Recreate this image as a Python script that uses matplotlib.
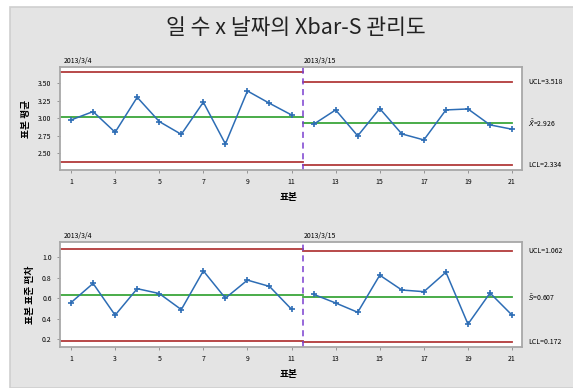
import numpy as np
import matplotlib.pyplot as plt
from matplotlib.patches import Rectangle

plt.rcParams['font.family'] = ['Noto Sans CJK KR', 'DejaVu Sans']

##--------------------- DATA --------------------
samples = np.arange(1, 22)
xbar = [2.976, 3.095, 2.80, 3.30, 2.953, 2.77, 3.23, 2.633, 3.39, 3.214, 3.047,
        2.914, 3.119, 2.748, 3.138, 2.776, 2.69, 3.119, 3.133, 2.905, 2.843]
sdev = [0.557, 0.743, 0.435, 0.692, 0.645, 0.489, 0.865, 0.60, 0.775, 0.714, 0.492,
        0.637, 0.553, 0.463, 0.823, 0.679, 0.663, 0.852, 0.348, 0.65, 0.435]
stage_start = [1, 12]
stage_end = [11, 21]
stage_names = ['2013/3/4', '2013/3/15']
xbar_ucl = [3.667, 3.518]
xbar_cl = [3.024, 2.926]
xbar_lcl = [2.381, 2.334]
s_ucl = [1.080, 1.062]
s_cl = [0.634, 0.607]
s_lcl = [0.184, 0.172]
xticks = [1, 3, 5, 7, 9, 11, 13, 15, 17, 19, 21]
xbar_ticks = [2.50, 2.75, 3.00, 3.25, 3.50]
s_ticks = [0.2, 0.4, 0.6, 0.8, 1.0]
title = '일 수 x 날짜의 Xbar-S 관리도'

c_line = '#2d6db5'
c_lim = '#b23a3a'
c_cl = '#3aa63a'
c_div = '#7a3fd0'

fig = plt.figure(figsize=(5.73, 3.88), dpi=100)
fig.patch.set_facecolor('white')
# gray panel with white strip on top/left
fig.add_artist(Rectangle((10/573, 0), 1, 1 - 7/388, transform=fig.transFigure,
                         facecolor='#e4e4e4', edgecolor='#cfcfcf', lw=1.2, zorder=0))

fig.text(0.517, 0.929, title, ha='center', va='center', fontsize=15.5, color='#222222')


def panel(rect, vals, ucl, cl, lcl, yticks, ylim, fmt, ylabel, cl_label):
    ax = fig.add_axes(rect)
    ax.set_facecolor('white')
    # one block of limits + points per stage
    for k in range(2):
        a, b = stage_start[k], stage_end[k]
        x0 = 0.5 if k == 0 else a - 0.5
        x1 = 11.5 if k == 0 else b
        ax.plot([x0, x1], [ucl[k], ucl[k]], color=c_lim, lw=1.3)
        ax.plot([x0, x1], [lcl[k], lcl[k]], color=c_lim, lw=1.3)
        ax.plot([x0, x1], [cl[k], cl[k]], color=c_cl, lw=1.3)
        xs = samples[a - 1:b]
        ys = vals[a - 1:b]
        ax.plot(xs, ys, color=c_line, lw=1.1, marker='+', ms=4, mew=1.2)
        ax.text(x0 + (0.15 if k == 0 else 0.05), 1.02, stage_names[k],
                transform=ax.get_xaxis_transform(), fontsize=5, ha='left', va='bottom')
    ax.axvline(11.5, color=c_div, ls='--', lw=1.1, dashes=(4, 3))
    ax.set_xlim(0.5, 21.45)
    ax.set_ylim(*ylim)
    ax.set_xticks(xticks)
    ax.set_yticks(yticks)
    ax.set_yticklabels([fmt % v for v in yticks])
    ax.tick_params(labelsize=5, length=2.5, color='#888888', width=0.6)
    for s in ax.spines.values():
        s.set_color('#a8a8a8')
        s.set_linewidth(1.3)
    ax.set_xlabel('표본', fontsize=7, fontweight='bold', labelpad=4, x=0.495)
    ax.set_ylabel(ylabel, fontsize=7, fontweight='bold', labelpad=5)
    tr = ax.get_yaxis_transform()
    ax.text(1.013, ucl[1], 'UCL=%.3f' % ucl[1], transform=tr, fontsize=5, va='center')
    ax.text(1.013, cl[1], cl_label + '=%.3f' % cl[1], transform=tr, fontsize=5, va='center')
    ax.text(1.013, lcl[1], 'LCL=%.3f' % lcl[1], transform=tr, fontsize=5, va='center')
    return ax


panel([60/573, 1 - 170/388, 462/573, 103/388], xbar, xbar_ucl, xbar_cl, xbar_lcl,
      xbar_ticks, (2.26, 3.733), '%.2f', '표본 평균', r'$\bar{\bar{X}}$')
panel([60/573, 1 - 347/388, 462/573, 105/388], sdev, s_ucl, s_cl, s_lcl,
      s_ticks, (0.126, 1.145), '%.1f', '표본 표준 편차', r'$\bar{S}$')

fig.savefig('out.png', dpi=100)
